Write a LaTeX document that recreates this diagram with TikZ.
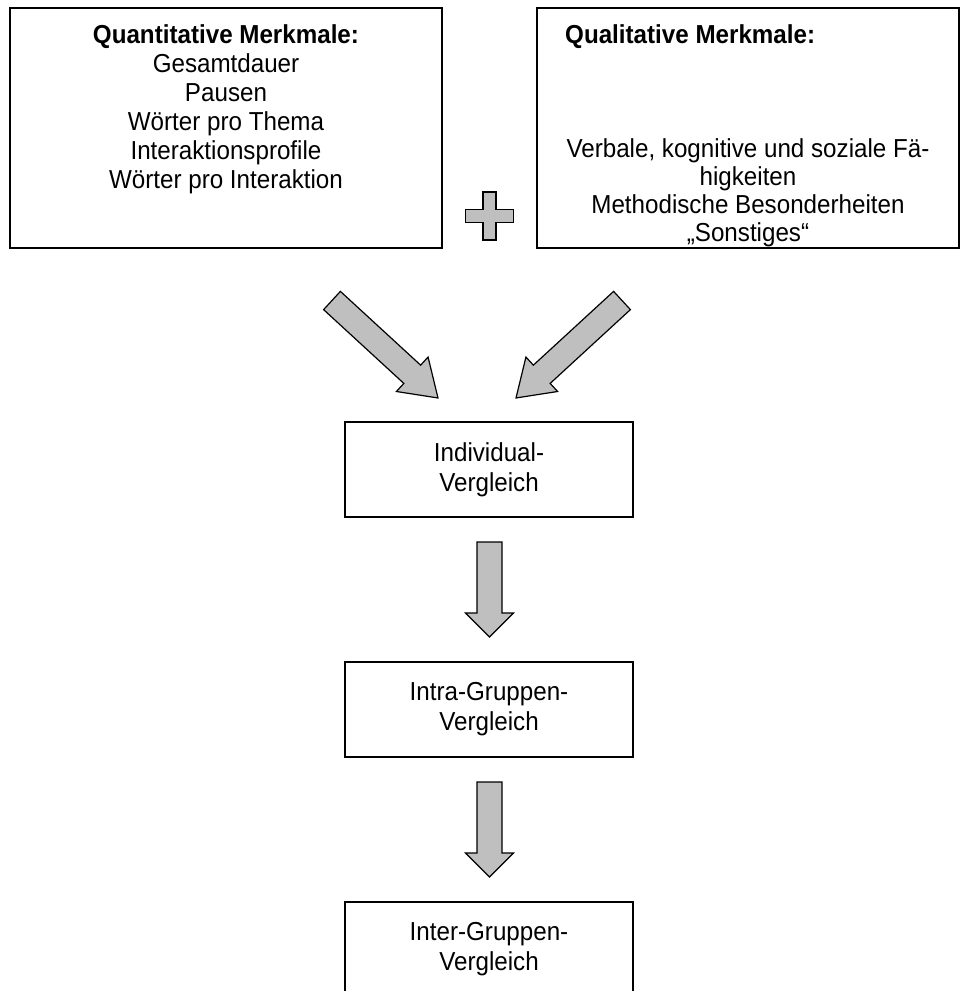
\documentclass[tikz,border=0pt]{standalone}
\usepackage{fontspec}
\setmainfont{Liberation Sans}[FakeStretch=0.93]
\begin{document}
\begin{tikzpicture}[x=1pt,y=-1pt,
  box/.style={draw=black, line width=1.3pt, inner sep=0pt, rectangle},
  txt/.style={inner sep=0pt, font=\fontsize{26}{29}\selectfont},
  flowtxt/.style={align=center, font=\fontsize{26}{30}\selectfont},
  arrowfill/.style={draw=black, line width=1.2pt, fill=black!25, line join=miter},
  pics/blockarrow/.style n args={4}{code={
    \draw[arrowfill] (0,-#2) -- ({#1-#4},-#2) -- ({#1-#4},-#3) -- (#1,0)
      -- ({#1-#4},#3) -- ({#1-#4},#2) -- (0,#2) -- cycle;}}]
\useasboundingbox (0,0) rectangle (960,991);
\clip (0,0) rectangle (960,991);

% top boxes
\node[box, minimum width=432pt, minimum height=240pt] (quant) at (226,128) {};
\node[box, minimum width=422pt, minimum height=240pt] (qual) at (748,128) {};

\node[txt, align=center, anchor=north] (quanttxt) at (226,24)
  {\textbf{Quantitative Merkmale:}\\Gesamtdauer\\Pausen\\Wörter pro Thema\\Interaktionsprofile\\Wörter pro Interaktion};
\node[txt, anchor=base west] (qualhead) at (565,43) {\textbf{Qualitative Merkmale:}};
\node[txt, align=center, anchor=north, font=\fontsize{26}{28}\selectfont] (qualtxt) at (748,138)
  {Verbale, kognitive und soziale Fä-\\higkeiten\\Methodische Besonderheiten\\„Sonstiges“};

% plus sign
\coordinate (plus) at (489.5,216);
\draw[arrowfill, line width=1.4pt] ([shift={(-6.5,-24)}]plus) -- ([shift={(6.5,-24)}]plus)
  -- ([shift={(6.5,-6.5)}]plus) -- ([shift={(24,-6.5)}]plus) -- ([shift={(24,6.5)}]plus)
  -- ([shift={(6.5,6.5)}]plus) -- ([shift={(6.5,24)}]plus) -- ([shift={(-6.5,24)}]plus)
  -- ([shift={(-6.5,6.5)}]plus) -- ([shift={(-24,6.5)}]plus) -- ([shift={(-24,-6.5)}]plus)
  -- ([shift={(-6.5,-6.5)}]plus) -- cycle;

% diagonal arrows
\coordinate (dl) at (332,300.5);
\coordinate (dr) at (622,300.5);
\pic[rotate=-42.6] at (dl) {blockarrow={144}{12.4}{23.4}{35}};
\pic[rotate=222.6] at (dr) {blockarrow={144}{12.4}{23.4}{35}};

% flow boxes
\node[box, flowtxt, minimum width=288pt, minimum height=95pt] (ind) at (489,469.5) {Individual-\\Vergleich};
\node[box, flowtxt, minimum width=288pt, minimum height=95pt] (intra) at (489,709.5) {Intra-Gruppen-\\Vergleich};
\node[box, flowtxt, minimum width=288pt, minimum height=95pt] (inter) at (489,949.5) {Inter-Gruppen-\\Vergleich};

% vertical arrows
\coordinate (v1) at (489.5,542);
\coordinate (v2) at (489.5,782);
\pic[rotate=-90] at (v1) {blockarrow={95}{12.5}{24}{24}};
\pic[rotate=-90] at (v2) {blockarrow={95}{12.5}{24}{24}};
\end{tikzpicture}
\end{document}
